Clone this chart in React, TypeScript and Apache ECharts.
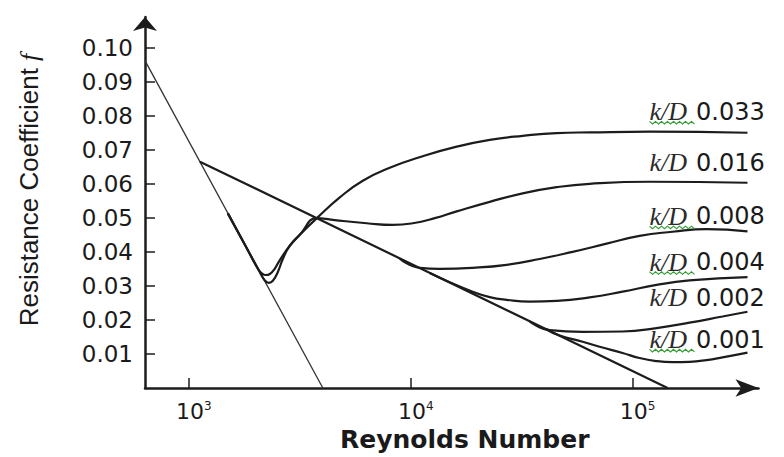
import React, { useEffect, useRef } from "react";
import * as echarts from "echarts";

// ---- data ----
const xTicks = [1000, 10000, 100000];
const yTicks = [0.01, 0.02, 0.03, 0.04, 0.05, 0.06, 0.07, 0.08, 0.09, 0.1];
const xRange = [634, 369500];
const yRange = [0, 0.109];

const laminar = [
  [634, 0.0962],
  [4015, 0],
];
const smoothPipe = [
  [1121, 0.0665],
  [143800, 0],
];

const roughness = ["0.033", "0.016", "0.008", "0.004", "0.002", "0.001"];

const curve033 = [
  [1498, 0.0513], [1788, 0.0421], [2088, 0.034], [2199, 0.0316], [2293, 0.0309],
  [2390, 0.0315], [2517, 0.0341], [2651, 0.0379], [2851, 0.0418], [3162, 0.045],
  [3773, 0.0499], [4788, 0.056], [6079, 0.0609], [8042, 0.0647], [11325, 0.0681],
  [16118, 0.0709], [22697, 0.0729], [31954, 0.0741], [45480, 0.0749], [64030, 0.0751],
  [119300, 0.0753], [329600, 0.075],
];
const curve016 = [
  [1498, 0.0513], [1788, 0.0421], [2046, 0.0351], [2132, 0.0337], [2222, 0.0332],
  [2317, 0.0335], [2440, 0.0351], [2570, 0.0376], [2851, 0.0418], [3162, 0.045],
  [3773, 0.0499], [4453, 0.0494], [6337, 0.0484], [8297, 0.0479], [10210, 0.0484],
  [12830, 0.0499], [16118, 0.0519], [22697, 0.0547], [31954, 0.0572], [45480, 0.059],
  [64030, 0.06], [119300, 0.0606], [329600, 0.0603],
];
const curve008 = [
  [8923, 0.038], [10977, 0.0353], [13507, 0.035], [19020, 0.0353], [27060, 0.0362],
  [38110, 0.0379], [53650, 0.04], [76360, 0.0424], [107500, 0.0447], [151400, 0.0459],
  [215400, 0.0467], [329600, 0.046],
];
const curve004 = [
  [12177, 0.0338], [14990, 0.0311], [19020, 0.0283], [22697, 0.0267], [27060, 0.0259],
  [34360, 0.0254], [45480, 0.0256], [64030, 0.0266], [90150, 0.0283], [128200, 0.0303],
  [180600, 0.0316], [329600, 0.0326],
];
const curve002 = [
  [34360, 0.0196], [42270, 0.017], [59560, 0.0165], [90150, 0.0166], [128200, 0.0176],
  [180600, 0.0192], [254300, 0.021], [329600, 0.0224],
];
const curve001 = [
  [40990, 0.0172], [46910, 0.0154], [59560, 0.0136], [71020, 0.0121], [90150, 0.0103],
  [107500, 0.0088], [128200, 0.0079], [151400, 0.0076], [180600, 0.0077], [215400, 0.0082],
  [254300, 0.009], [329600, 0.0104],
];
const roughCurves = [curve033, curve016, curve008, curve004, curve002, curve001];

// ---- styling ----
const INK = "#1c1c1c";
const TEXT = "#1a1a1a";
const labelDx = -98;
const labelDy = [-21, -20, -15, -15, -14, -13];
const spellMark = [true, false, true, true, false, true];

export default function App() {
  const ref = useRef<HTMLDivElement>(null);

  useEffect(() => {
    if (!ref.current) return;
    const chart = echarts.init(ref.current, null, { renderer: "svg" });

    const roughSeries = roughCurves.map((data, i) => ({
      type: "line",
      data,
      smooth: 0.5,
      symbol: "none",
      lineStyle: { color: INK, width: 2.2 },
      endLabel: {
        show: true,
        distance: 0,
        offset: [labelDx, labelDy[i]],
        align: "left",
        verticalAlign: "middle",
        formatter: () => `{k|k/D}{v|${roughness[i]}}`,
        rich: {
          k: {
            fontFamily: "Liberation Serif",
            fontStyle: "italic",
            fontSize: 26,
            color: "#2a2a2a",
            padding: [0, 9, 0, 0],
          },
          v: { fontFamily: "DejaVu Sans", fontSize: 24, color: TEXT },
        },
      },
    }));

    chart.setOption({
      animation: false,
      backgroundColor: "#fff",
      grid: { left: 145, top: 17, right: 25.5, bottom: 69, outerBoundsMode: "none" },
      xAxis: {
        type: "log",
        logBase: 10,
        min: xRange[0],
        max: xRange[1],
        name: "Reynolds Number",
        nameLocation: "middle",
        nameGap: 34,
        nameTextStyle: {
          fontFamily: "DejaVu Sans",
          fontWeight: "bold",
          fontSize: 25,
          color: TEXT,
          padding: [0, 0, 0, 26],
        },
        axisLine: {
          show: true,
          symbol: ["none", "arrow"],
          symbolSize: [13, 23],
          lineStyle: { color: INK, width: 2.5 },
        },
        axisTick: {
          show: true,
          inside: true,
          length: 10,
          customValues: xTicks,
          lineStyle: { color: INK, width: 1.5 },
        },
        axisLabel: {
          show: true,
          customValues: xTicks,
          margin: 12,
          fontFamily: "DejaVu Sans",
          fontSize: 22,
          color: TEXT,
          padding: [0, 0, 0, 10],
          formatter: (v: number) => `10{s|${Math.round(Math.log10(v))}}`,
          rich: { s: { fontSize: 12, verticalAlign: "top", color: TEXT } },
        },
        splitLine: { show: false },
        minorTick: { show: false },
      },
      yAxis: {
        type: "value",
        min: yRange[0],
        max: yRange[1],
        name: "{n|Resistance Coefficient }{f|f}",
        nameLocation: "middle",
        nameGap: 103,
        nameRotate: 90,
        nameTextStyle: {
          padding: [0, 0, 0, 25],
          rich: {
            n: { fontFamily: "Liberation Sans", fontSize: 26, color: TEXT },
            f: {
              fontFamily: "Liberation Serif",
              fontStyle: "italic",
              fontSize: 26,
              color: TEXT,
            },
          },
        },
        axisLine: {
          show: true,
          symbol: ["none", "arrow"],
          symbolSize: [18, 14],
          lineStyle: { color: INK, width: 2.5 },
        },
        axisTick: {
          show: true,
          inside: true,
          length: 10,
          customValues: yTicks,
          lineStyle: { color: INK, width: 1.5 },
        },
        axisLabel: {
          show: true,
          customValues: yTicks,
          margin: 12,
          fontFamily: "DejaVu Sans",
          fontSize: 23,
          color: TEXT,
          formatter: (v: number) => v.toFixed(2),
        },
        splitLine: { show: false },
      },
      series: [
        {
          type: "line",
          data: laminar,
          symbol: "none",
          lineStyle: { color: "#333", width: 1.3 },
        },
        {
          type: "line",
          data: smoothPipe,
          symbol: "none",
          lineStyle: { color: INK, width: 2.2 },
        },
        ...roughSeries,
      ],
    });

    // green wavy spell-check marks under some "k/D" labels, anchored to each curve's end point
    const waves: any[] = [];
    roughCurves.forEach((data, i) => {
      if (!spellMark[i]) return;
      const end = data[data.length - 1];
      const p = chart.convertToPixel({ xAxisIndex: 0, yAxisIndex: 0 }, end) as number[];
      const x0 = p[0] + labelDx;
      const y0 = p[1] + labelDy[i] + 11;
      const pts: number[][] = [];
      for (let k = 0; k <= 15; k++) pts.push([x0 + k * 3, y0 + (k % 2 === 0 ? -1.3 : 1.3)]);
      waves.push({
        type: "polyline",
        shape: { points: pts },
        style: { stroke: "#2f9e2f", lineWidth: 1.1, fill: null },
        silent: true,
        z: 10,
      });
    });
    chart.setOption({ graphic: waves });

    return () => chart.dispose();
  }, []);

  return (
    <div
      ref={ref}
      style={{ position: "absolute", left: 0, top: 0, width: 784, height: 457 }}
    />
  );
}
